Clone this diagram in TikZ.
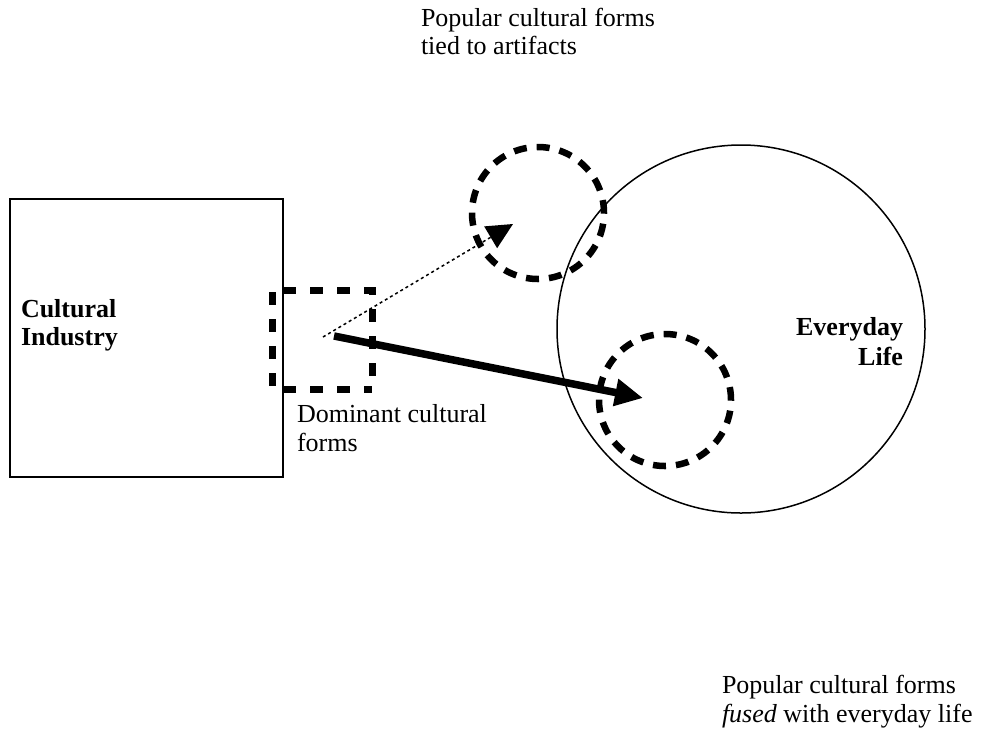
\documentclass[tikz,border=0pt]{standalone}
\usepackage{fontspec}
\setmainfont{Liberation Serif}
\usetikzlibrary{arrows.meta}
\begin{document}
\begin{tikzpicture}[x=1pt,y=-1pt,
  lbl/.style={inner sep=0pt,outer sep=0pt,font=\fontsize{26}{29}\selectfont},
  solidbox/.style={draw,line width=1.5pt},
  dashring/.style={draw,circle,inner sep=0pt,line width=6.5pt,dash pattern=on 13pt off 10pt},
  dashedge/.style={line width=7pt,dash pattern=on 13pt off 14pt}]
\useasboundingbox (0,0) rectangle (987,732);
% cultural industry square
\node[solidbox,rectangle,minimum width=273pt,minimum height=278pt,inner sep=0pt] (ci) at (146.5,338) {};
\node[lbl,anchor=base west,align=left,font=\fontsize{26}{28}\selectfont\bfseries] (citxt) at (21,345) {Cultural\\Industry};
% everyday life
\node[draw,circle,line width=1.5pt,minimum size=368pt,inner sep=0pt] (el) at (741,329) {};
\node[lbl,anchor=base east,align=right,font=\fontsize{26}{30}\selectfont\bfseries] (eltxt) at (903,365) {Everyday\\Life};
% dashed circles
\node[dashring,minimum size=132pt] (pa) at (538,213) {};
\node[dashring,minimum size=132pt] (pf) at (665,400) {};
% dominant cultural forms dashed box
\coordinate (d1) at (283,290);
\coordinate (d2) at (372,290);
\coordinate (d3) at (372,389);
\coordinate (d4) at (283,389);
\coordinate (d5) at (272,292);
\coordinate (d6) at (272,389);
\draw[dashedge] (d1) -- (d2) -- (d3);
\draw[dashedge] (d4) -- (d3);
\draw[dashedge] (d5) -- (d6);
% arrows
\coordinate (s1) at (323,337);
\coordinate (t1) at (513,224);
\coordinate (s2) at (334,336);
\coordinate (t2) at (643,398);
\draw[line width=1.5pt,dash pattern=on 3pt off 3pt,-{Triangle[length=26pt,width=25pt]}] (s1) -- (t1);
\draw[line width=7.5pt,-{Triangle[length=28pt,width=26pt]}] (s2) -- (t2);
% labels
\node[lbl,anchor=base west,align=left] (domtxt) at (297,451) {Dominant cultural\\forms};
\node[lbl,anchor=base west,align=left,font=\fontsize{26}{28}\selectfont] (patxt) at (421,54) {Popular cultural forms\\tied to artifacts};
\node[lbl,anchor=base west,align=left] (pftxt) at (722,722) {Popular cultural forms\\\textit{fused} with everyday life};
\end{tikzpicture}
\end{document}
